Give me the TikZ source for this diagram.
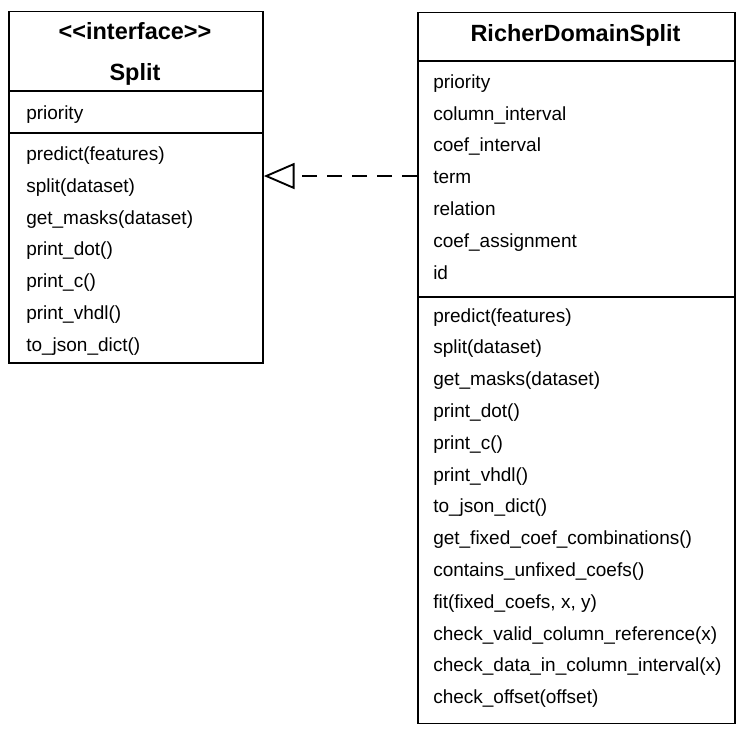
\documentclass[tikz,border=0pt]{standalone}
\usepackage{fontspec}
\setmainfont{Liberation Sans}
\usetikzlibrary{arrows.meta}

\begin{document}
\begin{tikzpicture}[x=0.75pt, y=-0.75pt,
    every node/.style={inner sep=0pt},
    classbox/.style={draw, line width=1.4pt, anchor=north west},
    divider/.style={line width=1.4pt},
    classname/.style={anchor=base, font=\fontsize{17.6}{21}\selectfont\bfseries},
    member/.style={anchor=base west, font=\fontsize{14.25}{17}\selectfont},
    realize/.style={line width=1.4pt, dash pattern=on 11.25pt off 7.5pt,
        -{Triangle[open, length=23pt, width=19.5pt]}}
]
    \path[fill=white, use as bounding box] (0,0) rectangle (744,744);

    % interface
    \node[classbox, minimum width=190.5pt, minimum height=263.6pt] (split) at (8,10.5) {};
    \node[classname] (splitstereo) at (135,39) {<\kern0pt<interface>\kern0pt>};
    \node[classname] (splitname) at (135,80) {Split};
    \draw[divider] (split.west |- 0,91) -- (split.east |- 0,91);
    \draw[divider] (split.west |- 0,133) -- (split.east |- 0,133);
    \node[member] (sattr1) at (26,119.5) {priority};
    \node[member] (sop1) at (26,160.5) {predict(features)};
    \node[member] (sop2) at (26,192.3) {split(dataset)};
    \node[member] (sop3) at (26,224.1) {get\_masks(dataset)};
    \node[member] (sop4) at (26,255.9) {print\_dot()};
    \node[member] (sop5) at (26,287.7) {print\_c()};
    \node[member] (sop6) at (26,319.5) {print\_vhdl()};
    \node[member] (sop7) at (26,351.3) {to\_json\_dict()};

    % implementing class
    \node[classbox, minimum width=237.75pt, minimum height=533.3pt] (rds) at (417,11.5) {};
    \node[classname] (rdsname) at (575.5,41) {RicherDomainSplit};
    \draw[divider] (rds.west |- 0,61) -- (rds.east |- 0,61);
    \draw[divider] (rds.west |- 0,297) -- (rds.east |- 0,297);
    \node[member] (rattr1) at (433,88.3) {priority};
    \node[member] (rattr2) at (433,120.1) {column\_interval};
    \node[member] (rattr3) at (433,151.9) {coef\_interval};
    \node[member] (rattr4) at (433,183.7) {term};
    \node[member] (rattr5) at (433,215.5) {relation};
    \node[member] (rattr6) at (433,247.3) {coef\_assignment};
    \node[member] (rattr7) at (433,279.1) {id};
    \node[member] (rop1) at (433,322) {predict(features)};
    \node[member] (rop2) at (433,353.8) {split(dataset)};
    \node[member] (rop3) at (433,385.6) {get\_masks(dataset)};
    \node[member] (rop4) at (433,417.4) {print\_dot()};
    \node[member] (rop5) at (433,449.2) {print\_c()};
    \node[member] (rop6) at (433,481) {print\_vhdl()};
    \node[member] (rop7) at (433,512.8) {to\_json\_dict()};
    \node[member] (rop8) at (433,544.6) {get\_fixed\_coef\_combinations()};
    \node[member] (rop9) at (433,576.4) {contains\_unfixed\_coefs()};
    \node[member] (rop10) at (433,608.2) {fit(fixed\_coefs, x, y)};
    \node[member] (rop11) at (433,640) {check\_valid\_column\_reference(x)};
    \node[member] (rop12) at (433,671.8) {check\_data\_in\_column\_interval(x)};
    \node[member] (rop13) at (433,703.6) {check\_offset(offset)};

    % realization
    \coordinate (rel) at (0,176);
    \draw[realize] (rds.west |- rel) -- (split.east |- rel);
\end{tikzpicture}
\end{document}
